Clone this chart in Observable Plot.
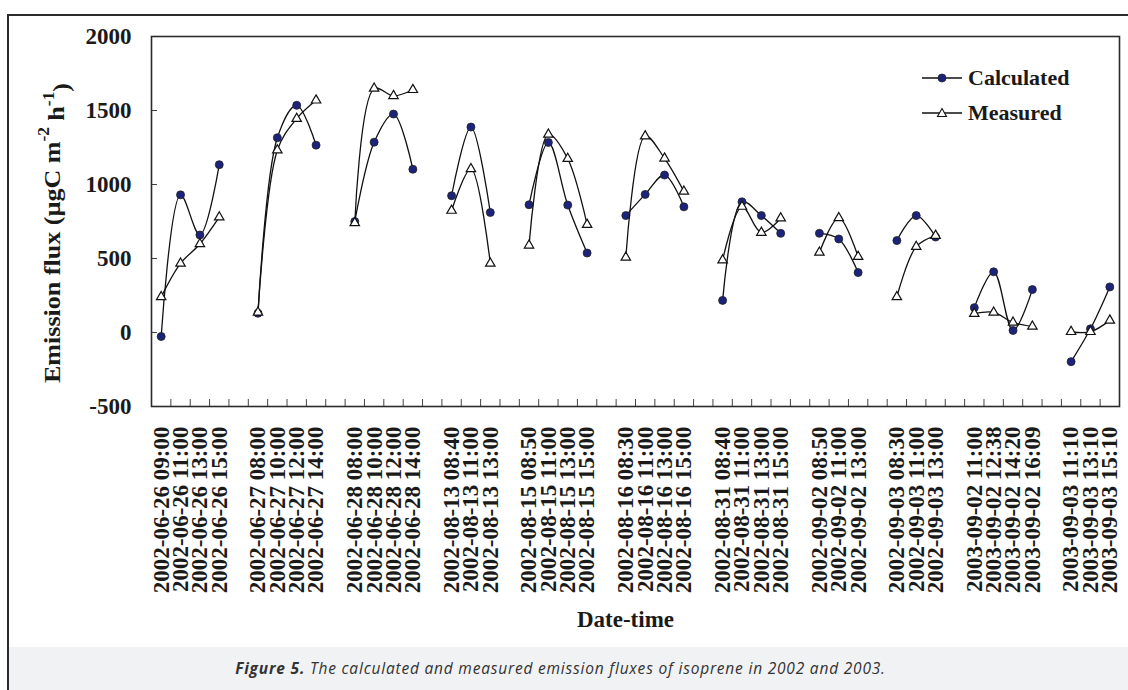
<!DOCTYPE html>
<html><head><meta charset="utf-8">
<script src="https://cdn.jsdelivr.net/npm/d3@7"></script>
<script src="https://cdn.jsdelivr.net/npm/@observablehq/plot@0.6"></script>
<style>
body{margin:0;background:#fff;}
#wrap{position:relative;width:1128px;height:690px;overflow:hidden;background:#fff;}
#border{position:absolute;left:7px;top:14px;width:1140px;height:700px;border-left:2px solid #2b2b2b;border-top:2px solid #2b2b2b;box-sizing:border-box;}
#chart{position:absolute;left:0;top:0;}
#capbg{position:absolute;left:9px;top:647px;width:1119px;height:43px;background:#f1f2f4;}
#caption{position:absolute;left:9px;top:647px;width:1103px;height:43px;font-family:"Open Sans",sans-serif;font-style:italic;font-size:15.5px;letter-spacing:0.8px;color:#333;text-align:center;line-height:43px;}
#legend{position:absolute;left:918px;top:60px;font-family:"Liberation Serif","Times New Roman",serif;font-weight:bold;font-size:22px;color:#1a1a1a;}
.lrow{display:flex;align-items:center;height:35px;}
.lrow span{margin-left:4px;}
</style></head><body>
<div id="wrap">
  <div id="border"></div>
  <div id="chart"></div>
  <div id="legend">
    <div class="lrow"><svg width="46" height="20"><line x1="4" y1="10" x2="44" y2="10" stroke="#111" stroke-width="1.5"/><circle cx="24" cy="10" r="4" fill="#1c237a" stroke="#222" stroke-width="0.8"/></svg><span>Calculated</span></div>
    <div class="lrow"><svg width="46" height="20"><line x1="4" y1="10" x2="44" y2="10" stroke="#111" stroke-width="1.5"/><path d="M24,5.5L28.5,13.5L19.5,13.5Z" fill="#fff" stroke="#111" stroke-width="1.1"/></svg><span>Measured</span></div>
  </div>
  <div id="capbg"></div>
  <div id="caption"><b>Figure 5.</b> The calculated and measured emission fluxes of isoprene in 2002 and 2003.</div>
</div>
<script>
const categories = [
  "2002-06-26 09:00","2002-06-26 11:00","2002-06-26 13:00","2002-06-26 15:00",
  "2002-06-27 08:00","2002-06-27 10:00","2002-06-27 12:00","2002-06-27 14:00",
  "2002-06-28 08:00","2002-06-28 10:00","2002-06-28 12:00","2002-06-28 14:00",
  "2002-08-13 08:40","2002-08-13 11:00","2002-08-13 13:00",
  "2002-08-15 08:50","2002-08-15 11:00","2002-08-15 13:00","2002-08-15 15:00",
  "2002-08-16 08:30","2002-08-16 11:00","2002-08-16 13:00","2002-08-16 15:00",
  "2002-08-31 08:40","2002-08-31 11:00","2002-08-31 13:00","2002-08-31 15:00",
  "2002-09-02 08:50","2002-09-02 11:00","2002-09-02 13:00",
  "2002-09-03 08:30","2002-09-03 11:00","2002-09-03 13:00",
  "2003-09-02 11:00","2003-09-02 12:38","2003-09-02 14:20","2003-09-02 16:09",
  "2003-09-03 11:10","2003-09-03 13:10","2003-09-03 15:10"
];
const groupOf = [0,0,0,0, 1,1,1,1, 2,2,2,2, 3,3,3, 4,4,4,4, 5,5,5,5, 6,6,6,6, 7,7,7, 8,8,8, 9,9,9,9, 10,10,10];
const calculated = [
  -27, 930, 659, 1134,
  130, 1316, 1535, 1266,
  750, 1286, 1476, 1103,
  924, 1388, 811,
  863, 1284, 861, 537,
  790, 933, 1064, 849,
  217, 883, 790, 670,
  670, 632, 405,
  621, 790, 645,
  168, 410, 14, 290,
  -197, 25, 308
];
const measured = [
  240, 467, 598, 779,
  136, 1232, 1445, 1569,
  740, 1649, 1599, 1640,
  824, 1105, 467,
  589, 1338, 1174, 729,
  507, 1327, 1177, 953,
  489, 851, 675, 772,
  541, 774, 512,
  240, 580, 655,
  127, 136, 68, 41,
  5, 5, 82
];
const yTicks = [-500, 0, 500, 1000, 1500, 2000];

// one blank category between consecutive days
const nSlots = categories.length + d3.max(groupOf);
const data = categories.map((c, i) => ({
  label: c, slot: i + groupOf[i] + 0.5, group: groupOf[i],
  calc: calculated[i], meas: measured[i]
}));
const labelBySlot = new Map(data.map(d => [d.slot, d.label]));
const boundaries = d3.range(1, nSlots);

const serif = '"Liberation Serif","Times New Roman",serif';
const plot = Plot.plot({
  width: 1128, height: 648,
  marginLeft: 151, marginRight: 9, marginTop: 36, marginBottom: 242,
  style: {fontFamily: serif, fontWeight: "bold", fontSize: "23px", color: "#1a1a1a", background: "transparent", overflow: "visible"},
  x: {domain: [0, nSlots], axis: null},
  y: {domain: [-500, 2000], axis: null},
  marks: [
    Plot.axisY(yTicks, {tickSize: -6, tickFormat: () => "", stroke: "#444", label: null}),
    Plot.axisY(yTicks, {tickSize: 0, tickPadding: 20, fontSize: 23, tickFormat: d => String(d), label: null}),
    Plot.axisX(boundaries, {tickSize: -7, tickFormat: () => "", stroke: "#444", label: null}),
    Plot.axisX(data.map(d => d.slot), {tickSize: 0, tickPadding: 20, tickRotate: -90, fontSize: 23, tickFormat: s => labelBySlot.get(s), label: null}),
    Plot.text(["Date-time"], {frameAnchor: "bottom", dy: 220, dx: -10, fontSize: 23}),
    Plot.frame({stroke: "#2b2b2b", strokeWidth: 1.6}),
    Plot.line(data, {x: "slot", y: "calc", z: "group", curve: "catmull-rom", stroke: "#111", strokeWidth: 1.3}),
    Plot.dot(data, {x: "slot", y: "calc", r: 4, fill: "#1c237a", stroke: "#222", strokeWidth: 0.8}),
    Plot.line(data, {x: "slot", y: "meas", z: "group", curve: "catmull-rom", stroke: "#111", strokeWidth: 1.3}),
    Plot.dot(data, {x: "slot", y: "meas", symbol: "triangle", r: 3.5, fill: "#fff", stroke: "#111", strokeWidth: 1.2})
  ]
});
document.getElementById("chart").appendChild(plot);

// y-axis title with superscripts
const t = d3.select(plot).append("text")
  .attr("transform", "translate(52,233) rotate(-90)")
  .attr("text-anchor", "middle")
  .attr("dominant-baseline", "central")
  .attr("font-family", serif).attr("font-weight", "bold").attr("font-size", 24)
  .attr("textLength", 300).attr("lengthAdjust", "spacingAndGlyphs")
  .attr("fill", "#1a1a1a");
t.append("tspan").text("Emission flux (µgC m");
t.append("tspan").attr("font-size", 16).attr("dy", "-0.55em").text("-2");
t.append("tspan").attr("dy", "0.55em").text(" h");
t.append("tspan").attr("font-size", 16).attr("dy", "-0.55em").text("-1");
t.append("tspan").attr("dy", "0.55em").text(")");
</script>
</body></html>
